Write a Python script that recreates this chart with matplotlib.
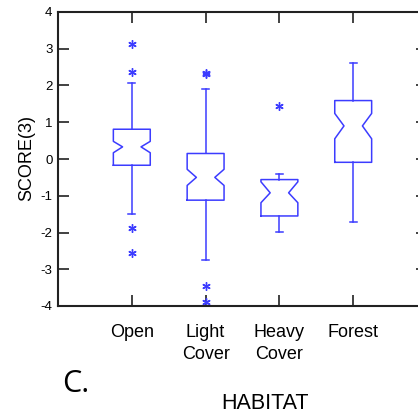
import matplotlib
matplotlib.use("Agg")
import matplotlib.pyplot as plt

categories = ["Open", "Light\nCover", "Heavy\nCover", "Forest"]
medians = [0.33, -0.50, -0.92, 0.90]
q1 = [-0.17, -1.12, -1.55, -0.09]
q3 = [0.81, 0.15, -0.56, 1.59]
ci_lo = [0.17, -0.72, -1.19, 0.55]
ci_hi = [0.48, -0.28, -0.62, 1.24]
whisker_lo = [-1.51, -2.75, -1.98, -1.71]
whisker_hi = [2.06, 1.90, -0.42, 2.60]
outliers = [[3.14, 2.38, -1.88, -2.55], [2.35, 2.30, -3.46, -3.90], [1.44], []]
yticks = [-4, -3, -2, -1, 0, 1, 2, 3, 4]

BLUE = "#3c3cff"
W, H = 418, 416
fig = plt.figure(figsize=(W / 100, H / 100), dpi=100)
ax = fig.add_axes([58 / W, (H - 306) / H, 369 / W, 294 / H])

stats = []
for i, name in enumerate(categories):
    stats.append(dict(label=name, med=medians[i], q1=q1[i], q3=q3[i],
                      cilo=ci_lo[i], cihi=ci_hi[i],
                      whislo=whisker_lo[i], whishi=whisker_hi[i],
                      fliers=outliers[i]))

line = dict(color=BLUE, linewidth=1.1)
ax.bxp(stats, positions=[1, 2, 3, 4], widths=0.5, shownotches=True,
       boxprops=line, whiskerprops=line, capprops=line,
       medianprops=dict(color=BLUE, linewidth=0),
       capwidths=0.1,
       flierprops=dict(marker=(6, 2, 0), markersize=6, markeredgecolor=BLUE,
                       markerfacecolor=BLUE, markeredgewidth=1.0, linestyle="none"))

ax.set_xlim(0, 5)
ax.set_ylim(-4, 4)
ax.set_yticks(yticks)
ax.set_yticklabels([str(v) for v in yticks], fontsize=9.5, family="Liberation Sans")
ax.set_xticks([1, 2, 3, 4])
ax.set_xticklabels(categories, fontsize=13, family="Liberation Sans", linespacing=1.35)
ax.tick_params(axis="both", direction="in", length=8, width=1.3, color="#333333",
               top=True, right=True)
ax.tick_params(axis="x", pad=13)
ax.tick_params(axis="y", pad=4)
for s in ax.spines.values():
    s.set_linewidth(1.5)
    s.set_color("#222222")

fig.text(27 / W, 1 - 158 / H, "SCORE(3)", rotation=90, ha="center", va="center",
         fontsize=13, family="Liberation Sans")
fig.text(265 / W, 1 - 409 / H, "HABITAT", ha="center", va="baseline",
         fontsize=15.5, family="Liberation Sans")
fig.text(62 / W, 1 - 392 / H, "C.", ha="left", va="baseline",
         fontsize=22, family="Open Sans")

fig.savefig("out.png", dpi=100)
